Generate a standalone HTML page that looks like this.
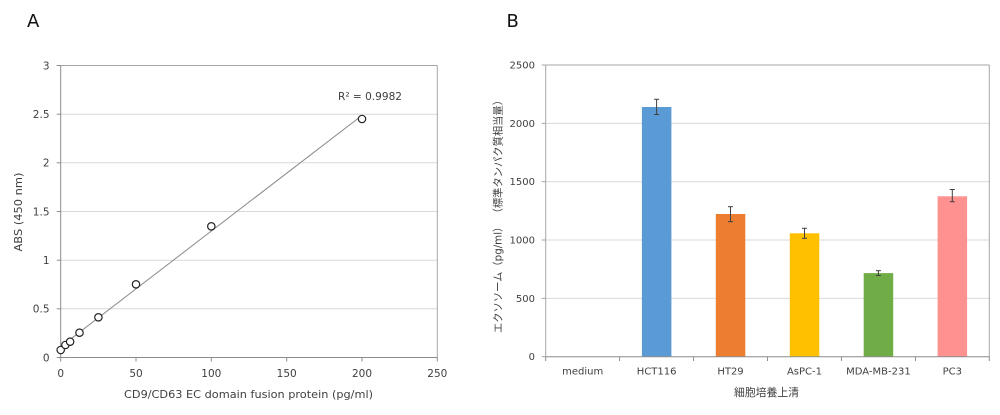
<!DOCTYPE html>
<html><head><meta charset="utf-8"><style>
html,body{margin:0;padding:0;background:#fff;}
svg{display:block;}
text{font-family:"DejaVu Sans","Liberation Sans","Noto Sans CJK JP",sans-serif;fill:#404040;}
.jp{font-family:"DejaVu Sans","Noto Sans CJK JP",sans-serif;}
</style></head><body>
<svg width="1000" height="415" viewBox="0 0 1000 415" xmlns="http://www.w3.org/2000/svg">
<rect width="1000" height="415" fill="#fff"/>
<!-- Panel A -->
<text x="27" y="27" font-size="18" style="fill:#111">A</text>
<g stroke="#d9d9d9" stroke-width="1">
<line x1="60.7" y1="308.8" x2="437.3" y2="308.8"/>
<line x1="60.7" y1="260.2" x2="437.3" y2="260.2"/>
<line x1="60.7" y1="211.5" x2="437.3" y2="211.5"/>
<line x1="60.7" y1="162.8" x2="437.3" y2="162.8"/>
<line x1="60.7" y1="114.2" x2="437.3" y2="114.2"/>
</g>
<g stroke="#a6a6a6" stroke-width="1" fill="none">
<line x1="60.7" y1="65.5" x2="437.3" y2="65.5"/>
<line x1="437.3" y1="65.5" x2="437.3" y2="357.5"/>
</g>
<g stroke="#8c8c8c" stroke-width="1">
<line x1="60.7" y1="65.5" x2="60.7" y2="361.5"/>
<line x1="56.7" y1="357.5" x2="437.3" y2="357.5"/>
<line x1="56.7" y1="308.8" x2="60.7" y2="308.8"/>
<line x1="56.7" y1="260.2" x2="60.7" y2="260.2"/>
<line x1="56.7" y1="211.5" x2="60.7" y2="211.5"/>
<line x1="56.7" y1="162.8" x2="60.7" y2="162.8"/>
<line x1="56.7" y1="114.2" x2="60.7" y2="114.2"/>
<line x1="56.7" y1="65.5" x2="60.7" y2="65.5"/>
<line x1="136" y1="357.5" x2="136" y2="361.5"/>
<line x1="211.3" y1="357.5" x2="211.3" y2="361.5"/>
<line x1="286.7" y1="357.5" x2="286.7" y2="361.5"/>
<line x1="362" y1="357.5" x2="362" y2="361.5"/>
<line x1="437.3" y1="357.5" x2="437.3" y2="361.5"/>
</g>
<g font-size="10.5" text-anchor="end">
<text x="49.5" y="361.3">0</text>
<text x="49.5" y="312.6">0.5</text>
<text x="49.5" y="264">1</text>
<text x="49.5" y="215.3">1.5</text>
<text x="49.5" y="166.6">2</text>
<text x="49.5" y="118">2.5</text>
<text x="49.5" y="69.3">3</text>
</g>
<g font-size="10.5" text-anchor="middle">
<text x="60.7" y="377">0</text>
<text x="136" y="377">50</text>
<text x="211.3" y="377">100</text>
<text x="286.7" y="377">150</text>
<text x="362" y="377">200</text>
<text x="437.3" y="377">250</text>
</g>
<text x="124" y="398" font-size="11" textLength="249" lengthAdjust="spacingAndGlyphs">CD9/CD63 EC domain fusion protein (pg/ml)</text>
<text transform="translate(22,212) rotate(-90)" font-size="11" text-anchor="middle" textLength="79" lengthAdjust="spacingAndGlyphs">ABS (450 nm)</text>
<text x="338" y="100" font-size="11" textLength="64" lengthAdjust="spacingAndGlyphs">R² = 0.9982</text>
<line x1="60.7" y1="346.7" x2="362" y2="115.4" stroke="#8a8a8a" stroke-width="1"/>
<g fill="#fff" stroke="#222" stroke-width="1.2">
<circle cx="60.7" cy="350" r="3.7"/>
<circle cx="65.4" cy="345" r="3.7"/>
<circle cx="70.1" cy="341.7" r="3.7"/>
<circle cx="79.5" cy="332.7" r="3.7"/>
<circle cx="98.4" cy="317.3" r="3.7"/>
<circle cx="136" cy="284.3" r="3.7"/>
<circle cx="211.3" cy="226.3" r="3.7"/>
<circle cx="362" cy="119" r="3.7"/>
</g>

<!-- Panel B -->
<text x="506.5" y="27" font-size="18" style="fill:#111">B</text>
<g stroke="#d9d9d9" stroke-width="1">
<line x1="545.7" y1="298.4" x2="989.3" y2="298.4"/>
<line x1="545.7" y1="240" x2="989.3" y2="240"/>
<line x1="545.7" y1="181.7" x2="989.3" y2="181.7"/>
<line x1="545.7" y1="123.4" x2="989.3" y2="123.4"/>
</g>
<g stroke="#a6a6a6" stroke-width="1">
<line x1="545.7" y1="65" x2="989.3" y2="65"/>
<line x1="989.3" y1="65" x2="989.3" y2="356.7"/>
<line x1="545.7" y1="65" x2="545.7" y2="356.7"/>
<line x1="541.7" y1="298.4" x2="545.7" y2="298.4"/>
<line x1="541.7" y1="240" x2="545.7" y2="240"/>
<line x1="541.7" y1="181.7" x2="545.7" y2="181.7"/>
<line x1="541.7" y1="123.4" x2="545.7" y2="123.4"/>
<line x1="541.7" y1="65" x2="545.7" y2="65"/>
<line x1="541.7" y1="356.7" x2="545.7" y2="356.7"/>
</g>
<g fill-opacity="1">
<rect x="641.9" y="107" width="29.5" height="249.7" fill="#5B9BD5"/>
<rect x="715.8" y="214" width="29.5" height="142.7" fill="#ED7D31"/>
<rect x="789.8" y="233.3" width="29.5" height="123.4" fill="#FFC000"/>
<rect x="863.7" y="273.1" width="29.5" height="83.6" fill="#70AD47"/>
<rect x="937.6" y="196.3" width="29.5" height="160.4" fill="#FF9191"/>
</g>
<g stroke="#8c8c8c" stroke-width="1">
<line x1="545.7" y1="356.7" x2="989.3" y2="356.7"/>
<line x1="545.7" y1="356.7" x2="545.7" y2="361"/>
<line x1="619.6" y1="356.7" x2="619.6" y2="361"/>
<line x1="693.6" y1="356.7" x2="693.6" y2="361"/>
<line x1="767.5" y1="356.7" x2="767.5" y2="361"/>
<line x1="841.4" y1="356.7" x2="841.4" y2="361"/>
<line x1="915.4" y1="356.7" x2="915.4" y2="361"/>
<line x1="989.3" y1="356.7" x2="989.3" y2="361"/>
</g>
<g stroke="#404040" stroke-width="1">
<line x1="656.6" y1="99.3" x2="656.6" y2="114.5"/><line x1="654.1" y1="99.3" x2="659.1" y2="99.3"/><line x1="654.1" y1="114.5" x2="659.1" y2="114.5"/>
<line x1="730.5" y1="206.7" x2="730.5" y2="221.7"/><line x1="728" y1="206.7" x2="733" y2="206.7"/><line x1="728" y1="221.7" x2="733" y2="221.7"/>
<line x1="804.5" y1="228.3" x2="804.5" y2="238.3"/><line x1="802" y1="228.3" x2="807" y2="228.3"/><line x1="802" y1="238.3" x2="807" y2="238.3"/>
<line x1="878.4" y1="270.7" x2="878.4" y2="275.5"/><line x1="875.9" y1="270.7" x2="880.9" y2="270.7"/><line x1="875.9" y1="275.5" x2="880.9" y2="275.5"/>
<line x1="952.3" y1="189.5" x2="952.3" y2="201.7"/><line x1="949.8" y1="189.5" x2="954.8" y2="189.5"/><line x1="949.8" y1="201.7" x2="954.8" y2="201.7"/>
</g>
<g font-size="10" text-anchor="end">
<text x="535" y="360.2">0</text>
<text x="535" y="301.9">500</text>
<text x="535" y="243.5">1000</text>
<text x="535" y="185.2">1500</text>
<text x="535" y="126.9">2000</text>
<text x="535" y="68.5">2500</text>
</g>
<g font-size="10" text-anchor="middle">
<text x="582.7" y="374.3">medium</text>
<text x="656.6" y="374.3">HCT116</text>
<text x="730.5" y="374.3">HT29</text>
<text x="804.5" y="374.3">AsPC-1</text>
<text x="878.4" y="374.3">MDA-MB-231</text>
<text x="952.3" y="374.3">PC3</text>
</g>
<text class="jp" x="734" y="396" font-size="10.8" textLength="65" lengthAdjust="spacingAndGlyphs">細胞培養上清</text>
<text class="jp" transform="translate(501.5,214) rotate(-90)" font-size="10.5" text-anchor="middle" textLength="238" lengthAdjust="spacingAndGlyphs">エクソソーム（pg/ml） （標準タンパク質相当量）</text>
</svg>
</body></html>
